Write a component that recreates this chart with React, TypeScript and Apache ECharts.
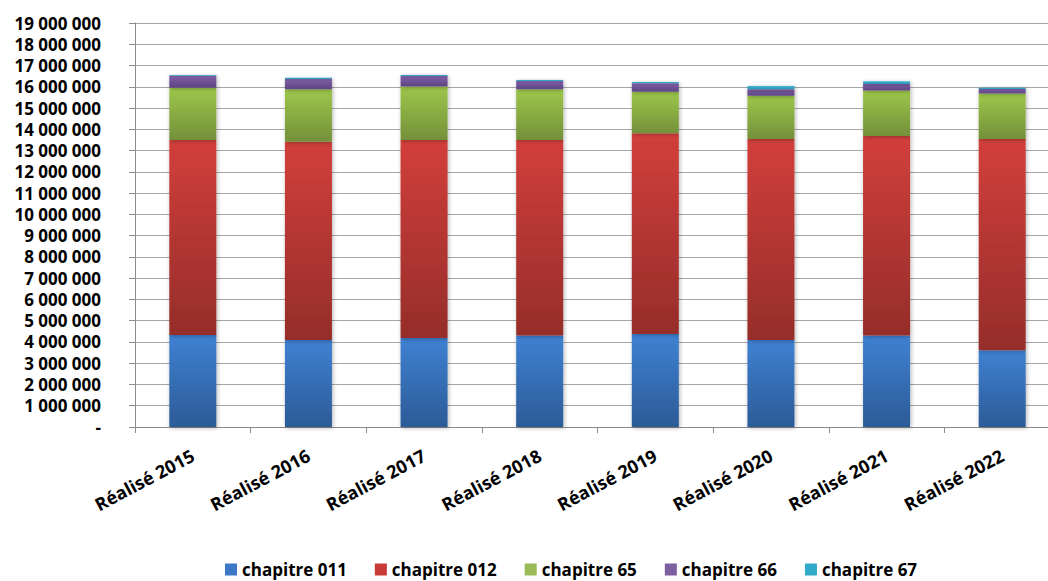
import React, { useEffect, useRef } from "react";
import * as echarts from "echarts";

// Budget réalisé par chapitre, en euros
const categories = [
  "Réalisé 2015",
  "Réalisé 2016",
  "Réalisé 2017",
  "Réalisé 2018",
  "Réalisé 2019",
  "Réalisé 2020",
  "Réalisé 2021",
  "Réalisé 2022",
];

const chapitre011 = [4330000, 4090000, 4190000, 4300000, 4370000, 4090000, 4300000, 3610000];
const chapitre012 = [9170000, 9330000, 9310000, 9200000, 9440000, 9460000, 9390000, 9940000];
const chapitre65 = [2460000, 2460000, 2510000, 2380000, 1960000, 2030000, 2130000, 2130000];
const chapitre66 = [560000, 490000, 500000, 390000, 400000, 300000, 310000, 220000];
const chapitre67 = [40000, 60000, 50000, 50000, 60000, 160000, 130000, 60000];

const seriesNames = ["chapitre 011", "chapitre 012", "chapitre 65", "chapitre 66", "chapitre 67"];
const seriesData = [chapitre011, chapitre012, chapitre65, chapitre66, chapitre67];

// [legend swatch, gradient top, gradient bottom]
const palette = [
  ["#3b78c8", "#3f81d2", "#2c5b97"],
  ["#c83a36", "#d23f3b", "#952d2a"],
  ["#9bbb59", "#9dc74b", "#74903a"],
  ["#7e5fa0", "#8060a8", "#5d4481"],
  ["#31a9c9", "#40b6d6", "#2a93b0"],
];

const FONT = "'Open Sans', 'Noto Sans', sans-serif";

function formatValue(v: number): string {
  if (v === 0) return "-";
  return String(Math.round(v)).replace(/\B(?=(\d{3})+(?!\d))/g, " ");
}

export default function App() {
  const ref = useRef<HTMLDivElement>(null);

  useEffect(() => {
    if (!ref.current) return;
    const chart = echarts.init(ref.current, null, { renderer: "svg" });

    const series = seriesNames.map((name, i) => ({
      name,
      type: "bar" as const,
      stack: "total",
      barWidth: 47,
      data: seriesData[i],
      itemStyle: {
        color: new echarts.graphic.LinearGradient(0, 0, 0, 1, [
          { offset: 0, color: palette[i][1] },
          { offset: 1, color: palette[i][2] },
        ]),
        shadowBlur: 4,
        shadowColor: "rgba(0,0,0,0.3)",
        shadowOffsetX: 1,
        shadowOffsetY: 1,
      },
    }));

    chart.setOption({
      animation: false,
      backgroundColor: "#ffffff",
      color: palette.map((p) => p[0]),
      // the plot area runs slightly past the visible right edge
      grid: { left: 135, top: 23, height: 404, width: 925, containLabel: false },
      legend: {
        top: 556,
        left: 220,
        itemWidth: 12,
        itemHeight: 12,
        itemGap: 28,
        icon: "rect",
        textStyle: { fontFamily: FONT, fontWeight: "bold", fontSize: 17, color: "#000" },
        data: seriesNames.map((n, i) => ({ name: n, itemStyle: { color: palette[i][0] } })),
      },
      xAxis: {
        type: "category",
        data: categories,
        axisLine: { lineStyle: { color: "#8c8c8c" } },
        axisTick: { show: true, length: 6, lineStyle: { color: "#8c8c8c" } },
        axisLabel: {
          rotate: 28,
          margin: 27,
          fontFamily: FONT,
          fontWeight: "bold",
          fontSize: 18,
          color: "#000",
        },
      },
      yAxis: {
        type: "value",
        min: 0,
        max: 19000000,
        interval: 1000000,
        axisLine: { show: true, lineStyle: { color: "#8c8c8c" } },
        axisTick: { show: true, length: 6, lineStyle: { color: "#8c8c8c" } },
        splitLine: { lineStyle: { color: "#a6a6a6", width: 1 } },
        axisLabel: {
          margin: 34,
          fontFamily: FONT,
          fontWeight: "bold",
          fontSize: 17,
          color: "#000",
          formatter: formatValue,
        },
      },
      series,
    });

    return () => chart.dispose();
  }, []);

  return (
    <div
      style={{
        position: "absolute",
        left: 0,
        top: 0,
        width: 1048,
        height: 581,
        overflow: "hidden",
        background: "#fff",
      }}
    >
      <div ref={ref} style={{ width: 1072, height: 581 }} />
    </div>
  );
}
